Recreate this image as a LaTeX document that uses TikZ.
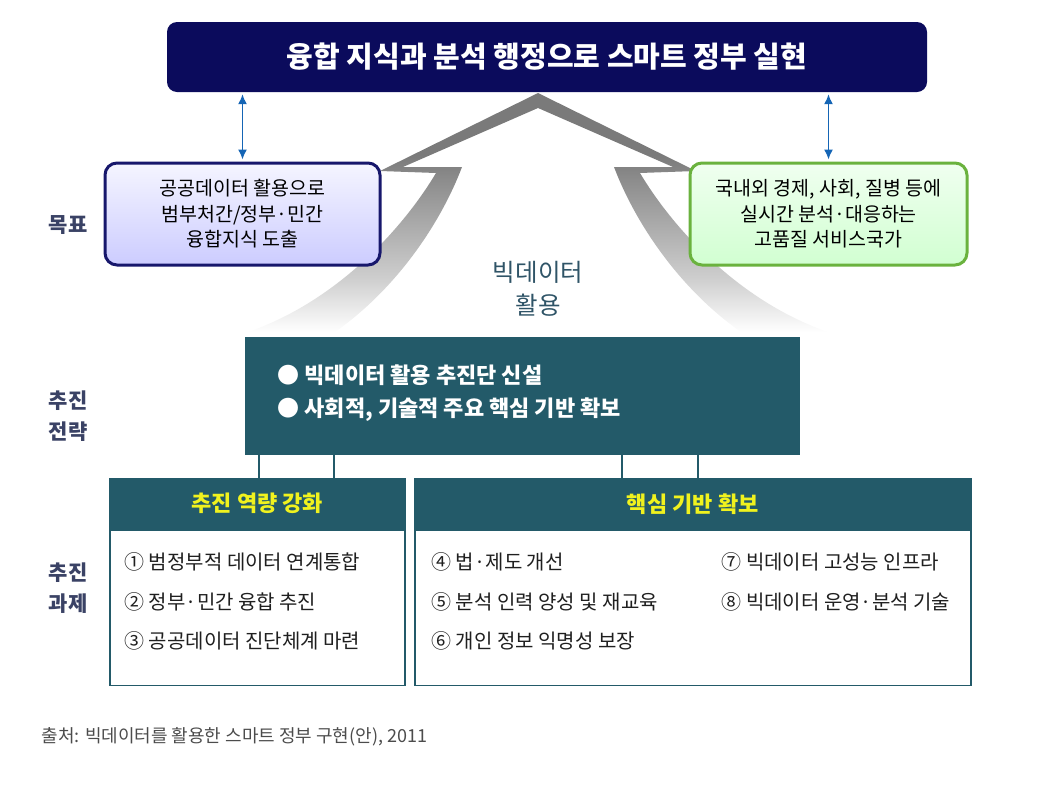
\documentclass[tikz,border=0pt]{standalone}
\usepackage{fontspec}
\setmainfont{Noto Sans CJK KR}
\usetikzlibrary{positioning}
\usetikzlibrary{arrows.meta}
\definecolor{bannerblue}{HTML}{0B0B5C}
\definecolor{duplexblue}{HTML}{1565B5}
\definecolor{roofgray}{HTML}{7A7A7A}
\definecolor{shaftgray}{HTML}{8C8C8C}
\definecolor{fadegray}{HTML}{CFCFCF}
\definecolor{teal}{HTML}{235A69}
\definecolor{headyellow}{HTML}{F0F21E}
\definecolor{sidelabel}{HTML}{3A4265}
\definecolor{usecolor}{HTML}{2F5467}
\definecolor{leftrim}{HTML}{17176C}
\definecolor{rightrim}{HTML}{6AB23E}
\pgfdeclareverticalshading{roofshade}{100bp}{color(0bp)=(white); color(25bp)=(white); color(36bp)=(fadegray); color(57bp)=(shaftgray); color(62bp)=(roofgray); color(100bp)=(roofgray)}

\tikzset{
	banner/.style={fill=bannerblue, rounded corners=10pt, text=white, font=\fontsize{29}{32}\selectfont\bfseries},
	goalbox/.style={line width=3pt, rounded corners=12pt, minimum width=275pt, minimum height=102pt, align=center, font=\fontsize{19.5}{25.5}\selectfont},
	duplex/.style={draw=duplexblue, line width=1.5pt, {Latex[length=10pt,width=9pt]}-{Latex[length=10pt,width=9pt]}, shorten <=2pt, shorten >=2pt},
	sidetext/.style={text=sidelabel, align=center, font=\fontsize{21}{31}\selectfont\bfseries},
	stratbox/.style={fill=teal, minimum width=555pt, minimum height=118pt},
	bullet/.style={text=white, anchor=west, font=\fontsize{22}{24}\selectfont\bfseries},
	taskhead/.style={fill=teal, draw=teal, line width=1.5pt, text=headyellow, minimum height=50pt, font=\fontsize{22}{24}\selectfont\bfseries},
	taskbody/.style={draw=teal, line width=1.5pt, fill=white, minimum height=155pt},
	tasktext/.style={anchor=west, text=black!88, font=\fontsize{20}{22}\selectfont},
	link/.style={draw=teal, line width=2pt}
}

\begin{document}
\begin{tikzpicture}[x=1pt, y=-1pt]
	\useasboundingbox (0,0) rectangle (1042,785);
	
	% Roof arrow
	\shade[shading=roofshade] (538,93) -- (696,171) -- (640,173) .. controls (671,225) and (736,300) .. (828,332) -- (741,332) .. controls (681,290) and (636,225) .. (614,167) -- (673,167) -- (538,108) -- (403,167) -- (462,167) .. controls (440,225) and (395,290) .. (335,332) -- (248,332) .. controls (340,300) and (405,225) .. (436,173) -- (380,171) -- cycle;
	
	% Vision and goals
	\node [banner, minimum width=760pt, minimum height=70pt] (vision) at (547,57) {융합 지식과 분석 행정으로 스마트 정부 실현};
	\node [goalbox, draw=leftrim, top color=blue!4, bottom color=blue!20!white] (goalL) at (242.5,214) {공공데이터 활용으로\\범부처간/정부·민간\\융합지식 도출};
	\node [goalbox, draw=rightrim, top color=green!6, bottom color=green!18!white, minimum width=277pt] (goalR) at (828.5,214) {국내외 경제, 사회, 질병 등에\\실시간 분석·대응하는\\고품질 서비스국가};
	\draw [duplex] (goalL.north) -- (goalL.north |- vision.south);
	\draw [duplex] (goalR.north) -- (goalR.north |- vision.south);
	\node [text=usecolor, align=center, font=\fontsize{24.5}{33}\selectfont] (use) at (538,289) {빅데이터\\활용};
	
	% Strategy
	\node [stratbox] (strat) at (522.5,396) {};
	\node [bullet] (s1) at (274,375) {● 빅데이터 활용 추진단 신설};
	\node [bullet, below=35pt of s1.west, anchor=west] (s2) {● 사회적, 기술적 주요 핵심 기반 확보};
	
	% Tasks
	\node [taskhead, minimum width=295pt, anchor=north west] (head1) at (109,478) {추진 역량 강화};
	\node [taskbody, minimum width=295pt, below=0pt of head1] (body1) {};
	\node [taskhead, minimum width=556pt, anchor=north west] (head2) at (414,478) {핵심 기반 확보};
	\node [taskbody, minimum width=556pt, below=0pt of head2] (body2) {};
	\node [tasktext] (t1) at (121,562) {① 범정부적 데이터 연계통합};
	\node [tasktext, below=40pt of t1.west, anchor=west] (t2) {② 정부·민간 융합 추진};
	\node [tasktext, below=39pt of t2.west, anchor=west] (t3) {③ 공공데이터 진단체계 마련};
	\node [tasktext] (t4) at (428,562) {④ 법·제도 개선};
	\node [tasktext, below=40pt of t4.west, anchor=west] (t5) {⑤ 분석 인력 양성 및 재교육};
	\node [tasktext, below=39pt of t5.west, anchor=west] (t6) {⑥ 개인 정보 익명성 보장};
	\node [tasktext] (t7) at (718,562) {⑦ 빅데이터 고성능 인프라};
	\node [tasktext, below=40pt of t7.west, anchor=west] (t8) {⑧ 빅데이터 운영·분석 기술};
	
	% Connections
	\draw [link] ([xshift=150pt]head1.north west) -- ([xshift=150pt]head1.north west |- strat.south);
	\draw [link] ([xshift=225pt]head1.north west) -- ([xshift=225pt]head1.north west |- strat.south);
	\draw [link] ([xshift=208pt]head2.north west) -- ([xshift=208pt]head2.north west |- strat.south);
	\draw [link] ([xshift=284pt]head2.north west) -- ([xshift=284pt]head2.north west |- strat.south);
	
	% Side labels and source
	\node [sidetext] (lbl1) at (68,225) {목표};
	\node [sidetext] (lbl2) at (68,416) {추진\\전략};
	\node [sidetext] (lbl3) at (68,588) {추진\\과제};
	\node [anchor=west, text=black!70, font=\fontsize{18}{20}\selectfont] (source) at (38,737) {출처: 빅데이터를 활용한 스마트 정부 구현(안), 2011};
\end{tikzpicture}
\end{document}
